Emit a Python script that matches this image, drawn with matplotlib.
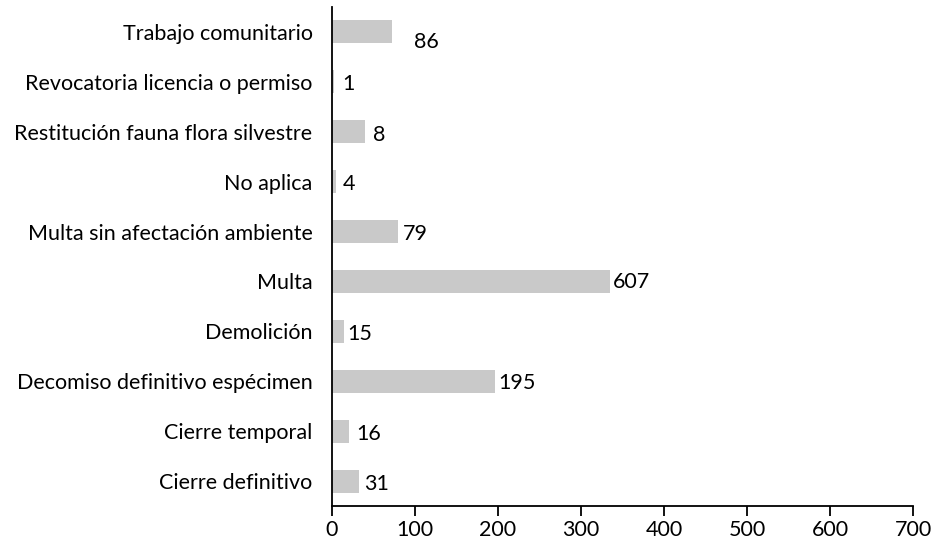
import matplotlib.pyplot as plt

plt.rcParams['font.family'] = ['Lato', 'DejaVu Sans']

# categories, bottom to top
categories = ['Cierre definitivo', 'Cierre temporal', 'Decomiso definitivo espécimen',
              'Demolición', 'Multa', 'Multa sin afectación ambiente', 'No aplica',
              'Restitución fauna flora silvestre', 'Revocatoria licencia o permiso',
              'Trabajo comunitario']
# bar lengths as drawn in the picture
bar_values = [32, 20, 196, 15, 335, 79, 5, 40, 3, 72]
# numbers printed next to the bars
label_values = [31, 16, 195, 15, 607, 79, 4, 8, 1, 86]
# label offsets in pixels (dx, dy) -- layout only
label_offsets = [(6, -3), (8, -3), (4, -2), (3, -3), (3, -1), (5, -2), (7, -2), (8, -3), (8, -2), (22, -10)]

fig = plt.figure(figsize=(9.35, 5.46), dpi=100)
ax = fig.add_axes([332/935, 1 - 506/546, (913 - 332)/935, (506 - 7)/546])

ypos = range(len(categories))
ax.barh(ypos, bar_values, height=0.46, color='#c9c9c9')

fs = 15.5
for y, v, lab, (dx, dy) in zip(ypos, bar_values, label_values, label_offsets):
    ax.annotate(str(lab), xy=(v, y), xytext=(dx*0.72, dy*0.72), textcoords='offset points',
                ha='left', va='center', fontsize=fs, color='#000000')

ax.set_xlim(0, 700)
ax.set_ylim(-0.5, len(categories) - 0.5)
ax.set_xticks(range(0, 701, 100))
ax.set_yticks(list(ypos))
ax.set_yticklabels(categories)

for s in ['top', 'right']:
    ax.spines[s].set_visible(False)
for s in ['left', 'bottom']:
    ax.spines[s].set_linewidth(1.3)
    ax.spines[s].set_color('#000000')

ax.tick_params(axis='x', length=7, width=1.3, labelsize=fs, pad=3, colors='#000000')
ax.tick_params(axis='y', length=0, labelsize=fs, pad=14, colors='#000000')

fig.savefig('out.png', dpi=100)
